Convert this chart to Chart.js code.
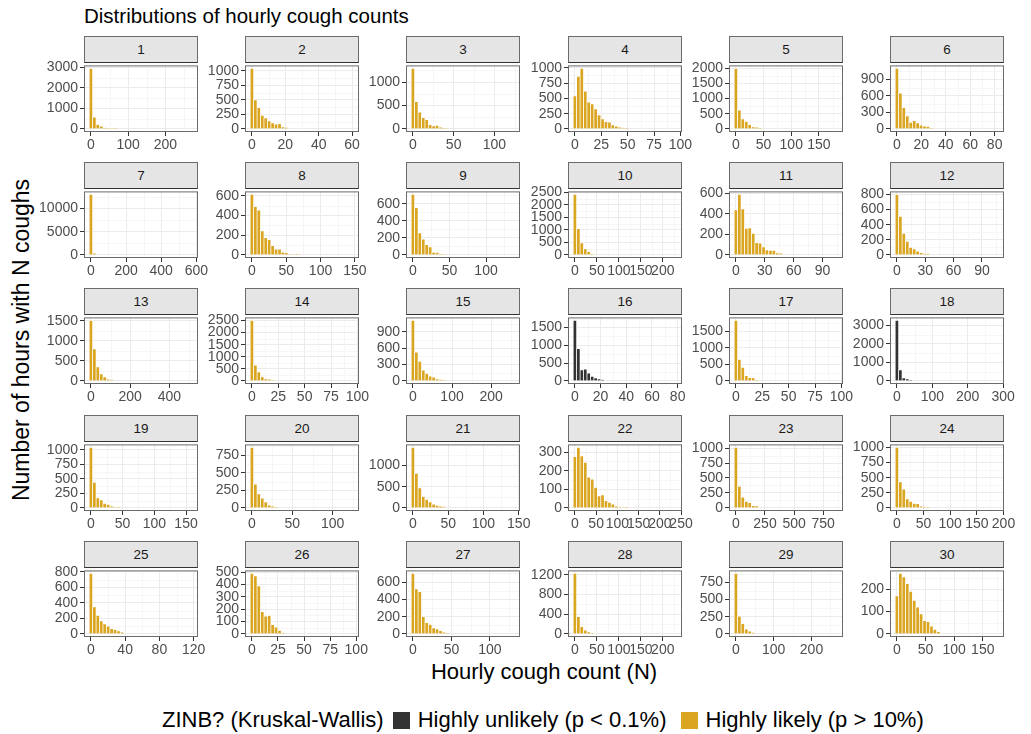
<!DOCTYPE html>
<html>
<head>
<meta charset="utf-8">
<script src="https://cdn.jsdelivr.net/npm/chart.js@4.4.1/dist/chart.umd.min.js"></script>
<style>
  body { margin: 0; background: #fff; font-family: "Liberation Sans", Arial, sans-serif; }
  #page { position: relative; width: 1031px; height: 734px; overflow: hidden; }
  canvas { position: absolute; }
  .strip {
    position: absolute; box-sizing: border-box; background: #e5e5e5;
    border: 1px solid #6b6b6b; border-bottom-color: #333;
    font-size: 13.5px; color: #1a1a1a;
    display: flex; align-items: center; justify-content: center;
  }
  #title { position: absolute; left: 84px; top: 4px; font-size: 20.5px; color: #000; }
  #ytitle { position: absolute; left: 21px; top: 340px; font-size: 23px; white-space: nowrap;
            transform: translate(-50%, -50%) rotate(-90deg); }
  #xtitle { position: absolute; left: 544px; top: 659px; font-size: 22px; transform: translateX(-50%); white-space: nowrap; }
  #legend { position: absolute; left: 162px; top: 707px; display: flex; align-items: center; font-size: 22px; white-space: nowrap; }
  .key { width: 17px; height: 17px; margin: 0 8px 0 9px; }
</style>
</head>
<body>
<div id="page">
  <div id="title">Distributions of hourly cough counts</div>
  <div id="ytitle">Number of hours with N coughs</div>
  <div id="xtitle">Hourly cough count (N)</div>
  <div id="legend"></div>
</div>
<script>
// facet labels and test outcome per participant
const panelLabels = ['1','2','3','4','5','6','7','8','9','10','11','12','13','14','15',
                     '16','17','18','19','20','21','22','23','24','25','26','27','28','29','30'];
const zinbGroup = ['likely','likely','likely','likely','likely','likely','likely','likely','likely','likely',
                   'likely','likely','likely','likely','likely','unlikely','likely','unlikely','likely','likely',
                   'likely','likely','likely','likely','likely','likely','likely','likely','likely','likely'];

// largest hourly count per participant (30 bins span 0..max)
const dataMax = [269, 60, 123, 95, 181, 82, 570, 146, 137, 228,
                 104, 106, 511, 95, 256, 78, 95, 283, 158, 124,
                 142, 236, 861, 188, 117, 96, 130, 228, 265, 175];

// tick spacing
const xTickStep = [100, 20, 50, 25, 50, 20, 200, 50, 50, 50,
                   30, 30, 200, 25, 100, 20, 25, 100, 50, 50,
                   50, 50, 250, 50, 40, 25, 50, 50, 100, 50];
const yTickStep = [1000, 250, 500, 250, 500, 300, 5000, 200, 200, 500,
                   200, 200, 500, 500, 300, 500, 500, 1000, 250, 250,
                   500, 100, 250, 250, 200, 100, 200, 400, 250, 100];

// bin counts, first bin centred on 0
const binCounts = [
  [2950, 580, 220, 140, 60, 40, 20, 10],
  [1040, 500, 365, 235, 190, 140, 105, 85, 90, 35, 25],
  [1290, 580, 360, 240, 200, 90, 65, 75, 40, 20, 8],
  [540, 860, 990, 620, 440, 410, 330, 230, 165, 120, 110, 65, 45, 30, 20, 10],
  [1990, 620, 330, 250, 140, 70, 60, 20],
  [1100, 650, 390, 240, 120, 150, 110, 70, 50, 45, 15],
  [13000, 350],
  [615, 490, 455, 245, 175, 155, 95, 60, 60, 30, 25, 10, 5, 8, 5],
  [710, 555, 260, 185, 120, 95, 30, 30, 10, 10],
  [2420, 1050, 480, 240, 130, 30],
  [440, 590, 450, 260, 265, 210, 120, 115, 80, 50, 45, 45, 20, 15],
  [800, 510, 285, 180, 100, 80, 50, 30, 20, 20],
  [1510, 800, 350, 180, 100, 40, 30],
  [2500, 650, 380, 170, 90, 70, 30],
  [1110, 530, 360, 200, 140, 90, 70, 40, 25, 15],
  [1700, 910, 310, 330, 220, 130, 90, 60, 30],
  [1830, 650, 410, 160, 100, 90, 20],
  [3270, 600, 170, 110, 40],
  [1040, 440, 175, 140, 80, 60, 30, 15, 10],
  [860, 340, 200, 140, 85, 40, 25, 10],
  [1420, 810, 470, 270, 200, 140, 90, 60, 40, 30],
  [275, 325, 280, 245, 165, 155, 110, 65, 70, 40, 30, 20, 10, 5, 2, 5],
  [1010, 360, 180, 110, 90, 40, 35],
  [1000, 430, 310, 150, 110, 75, 70, 30, 15, 10],
  [780, 350, 240, 170, 130, 100, 70, 55, 40, 25],
  [490, 470, 390, 180, 145, 150, 75, 55, 30, 10],
  [700, 520, 490, 200, 130, 110, 70, 60, 40, 20, 10],
  [1230, 350, 150, 80, 40, 20],
  [880, 260, 150, 70, 40, 20],
  [170, 270, 255, 225, 190, 150, 120, 90, 60, 55, 35, 20, 10]
];

const legendTitle = 'ZINB? (Kruskal-Wallis)';
const legendGroups = ['unlikely', 'likely'];
const legendLabels = ['Highly unlikely (p < 0.1%)', 'Highly likely (p > 10%)'];

const fillFor = { unlikely: '#333333', likely: '#DAA520' };
const colLeft = [84, 245, 406, 568, 729, 890];
const rowTop = [63, 189, 315, 442, 568];
const PW = 114, PH = 69, AXW = 48, PADT = 8, AXH = 24, PADR = 15;

Chart.defaults.font.family = '"Liberation Sans", Arial, sans-serif';
Chart.defaults.font.size = 14;
Chart.defaults.color = '#4d4d4d';

function tickValues(min, max, step) {
  const out = [];
  for (let v = Math.ceil(min / step) * step; v <= max + 1e-9; v += step) out.push(Math.round(v * 1e6) / 1e6);
  return out;
}

const page = document.getElementById('page');

panelLabels.forEach((label, i) => {
  const col = i % 6, row = Math.floor(i / 6);
  const left = colLeft[col], top = rowTop[row];
  const L = dataMax[i], w = L / 29;
  const lo = -w / 2, hi = L + w / 2, ex = (hi - lo) * 0.05;
  const ymax = Math.max(...binCounts[i]);
  const xs = xTickStep[i], ys = yTickStep[i];

  const canvas = document.createElement('canvas');
  canvas.width = AXW + PW + PADR;
  canvas.height = PADT + PH + AXH;
  canvas.style.left = (left - AXW) + 'px';
  canvas.style.top = (top - PADT) + 'px';
  page.appendChild(canvas);

  const strip = document.createElement('div');
  strip.className = 'strip';
  strip.style.left = left + 'px';
  strip.style.top = (top - 27) + 'px';
  strip.style.width = PW + 'px';
  strip.style.height = '27px';
  strip.textContent = label;
  page.appendChild(strip);

  // minor grid lines + panel border like theme_bw
  const panelDeco = {
    id: 'panelDeco',
    beforeDatasetsDraw(chart) {
      const { ctx, chartArea: a, scales: { x, y } } = chart;
      ctx.save();
      ctx.strokeStyle = '#f0f0f0';
      ctx.lineWidth = 0.6;
      tickValues(x.min - xs / 2, x.max - xs / 2, xs).forEach(v => {
        const px = Math.round(x.getPixelForValue(v + xs / 2)) + 0.5;
        ctx.beginPath(); ctx.moveTo(px, a.top); ctx.lineTo(px, a.bottom); ctx.stroke();
      });
      tickValues(y.min - ys / 2, y.max - ys / 2, ys).forEach(v => {
        const py = Math.round(y.getPixelForValue(v + ys / 2)) + 0.5;
        ctx.beginPath(); ctx.moveTo(a.left, py); ctx.lineTo(a.right, py); ctx.stroke();
      });
      ctx.restore();
    },
    afterDraw(chart) {
      const { ctx, chartArea: a } = chart;
      ctx.save();
      ctx.strokeStyle = '#6b6b6b';
      ctx.lineWidth = 1;
      ctx.strokeRect(a.left + 0.5, a.top + 0.5, a.width - 1, a.height - 1);
      ctx.restore();
    }
  };

  new Chart(canvas, {
    type: 'bar',
    data: {
      datasets: [{
        data: binCounts[i].map((c, k) => ({ x: k * w, y: c })),
        backgroundColor: fillFor[zinbGroup[i]],
        borderColor: '#ffffff',
        borderWidth: 0.7,
        barPercentage: 1,
        categoryPercentage: 1
      }]
    },
    options: {
      responsive: false,
      animation: false,
      devicePixelRatio: 1,
      layout: { padding: { left: 0, top: PADT, right: PADR, bottom: 0 } },
      plugins: { legend: { display: false }, tooltip: { enabled: false } },
      scales: {
        x: {
          type: 'linear',
          offset: false,
          min: lo - ex,
          max: hi + ex,
          afterBuildTicks: s => { s.ticks = tickValues(s.min, s.max, xs).map(v => ({ value: v })); },
          afterFit: s => { s.height = AXH; },
          grid: { offset: false, color: '#ebebeb', lineWidth: 1, tickLength: 4, tickColor: '#333', tickWidth: 1 },
          border: { display: false },
          ticks: { padding: 1, maxRotation: 0, autoSkip: false, color: '#4d4d4d', callback: v => String(v) }
        },
        y: {
          min: -0.05 * ymax,
          max: 1.05 * ymax,
          afterBuildTicks: s => { s.ticks = tickValues(s.min, s.max, ys).map(v => ({ value: v })); },
          afterFit: s => { s.width = AXW; },
          grid: { color: '#ebebeb', lineWidth: 1, tickLength: 4, tickColor: '#333', tickWidth: 1 },
          border: { display: false },
          ticks: { padding: 2, autoSkip: false, color: '#4d4d4d', callback: v => String(v) }
        }
      }
    },
    plugins: [panelDeco]
  });
});

// shared legend
const legend = document.getElementById('legend');
const lt = document.createElement('span');
lt.textContent = legendTitle;
legend.appendChild(lt);
legendGroups.forEach((g, k) => {
  const key = document.createElement('span');
  key.className = 'key';
  key.style.background = fillFor[g];
  if (k > 0) key.style.marginLeft = '14px';
  legend.appendChild(key);
  const t = document.createElement('span');
  t.textContent = legendLabels[k];
  legend.appendChild(t);
});
</script>
</body>
</html>
